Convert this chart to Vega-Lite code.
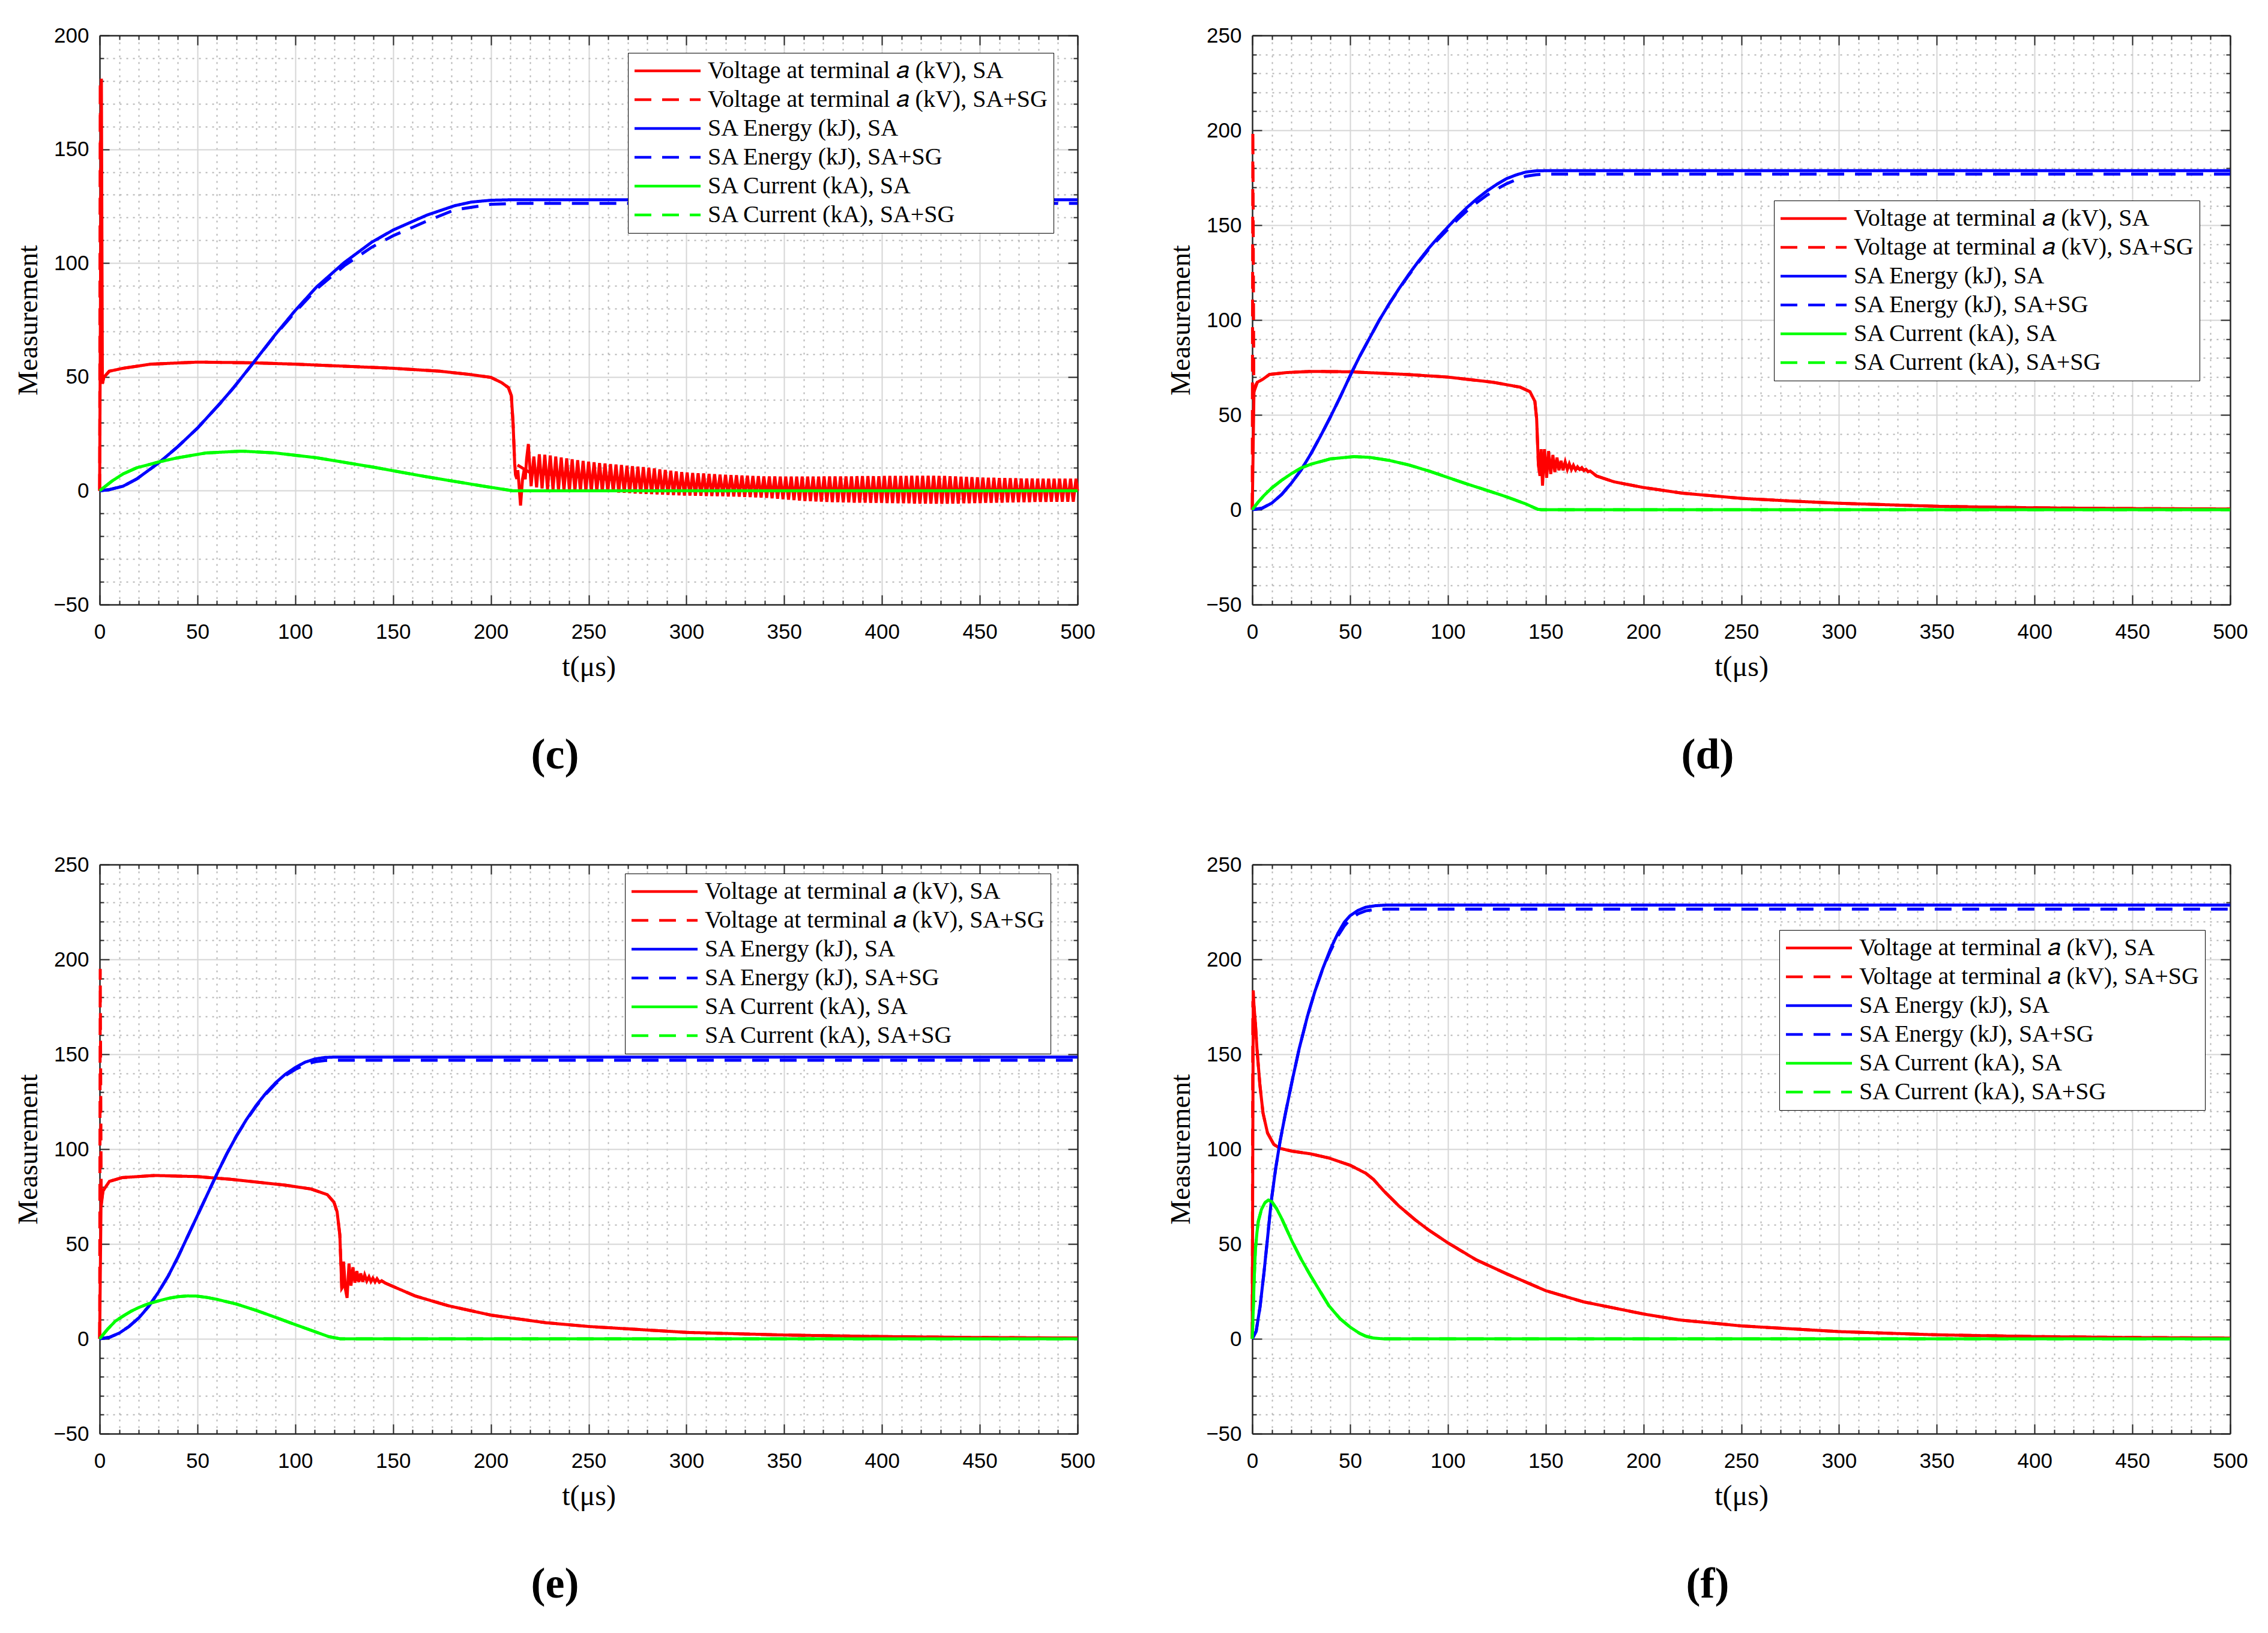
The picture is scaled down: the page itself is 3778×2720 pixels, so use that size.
{
"$schema":"https://vega.github.io/schema/vega-lite/v6.json",
"autosize":{"type":"none"},
"padding":{"left":166,"top":59,"right":3612,"bottom":2661},
"background":"#ffffff",
"datasets":{
"c":[
{"s":"VA","t":0,"v":0},{"s":"VA","t":0.9,"v":181},{"s":"VA","t":1.4,"v":47},{"s":"VA","t":2.1,"v":49.8},{"s":"VA","t":4.9,"v":52.5},{"s":"VA","t":12,"v":53.8},{"s":"VA","t":26,"v":55.6},{"s":"VA","t":50,"v":56.5},{"s":"VA","t":78,"v":56.2},{"s":"VA","t":100,"v":55.6},{"s":"VA","t":125,"v":54.7},{"s":"VA","t":150,"v":53.8},{"s":"VA","t":174,"v":52.5},{"s":"VA","t":189,"v":51.1},{"s":"VA","t":200,"v":49.8},{"s":"VA","t":205.5,"v":47.5},{"s":"VA","t":209,"v":45.3},{"s":"VA","t":210.5,"v":41.7},{"s":"VA","t":211.4,"v":29.3},{"s":"VA","t":212.2,"v":12},{"s":"VA","t":212.6,"v":7},{"s":"VA","t":213.3,"v":5.2},{"s":"VA","t":213.8,"v":9},{"s":"VA","t":214.3,"v":4},{"s":"VA","t":215.2,"v":-6.5},{"s":"VA","t":216.2,"v":5},{"s":"VA","t":217,"v":9},{"s":"VA","t":217.6,"v":5},{"s":"VA","t":218.3,"v":14},{"s":"VA","t":219.2,"v":20.5},
{"s":"VA","t":220.6,"v":2},{"s":"VA","t":222,"v":15},{"s":"VA","t":223.4,"v":1.5},{"s":"VA","t":224.8,"v":16},{"s":"VA","t":226.2,"v":1},{"s":"VA","t":227.6,"v":15.8},{"s":"VA","t":229,"v":0.6},{"s":"VA","t":230.4,"v":15.5},{"s":"VA","t":231.8,"v":0.4},{"s":"VA","t":233.2,"v":15},{"s":"VA","t":234.6,"v":0.3},{"s":"VA","t":236,"v":14.6},{"s":"VA","t":237.4,"v":0.1},{"s":"VA","t":238.8,"v":14.2},{"s":"VA","t":240.2,"v":0},{"s":"VA","t":241.6,"v":13.8},{"s":"VA","t":243,"v":0},{"s":"VA","t":244.4,"v":13.4},{"s":"VA","t":245.8,"v":0},{"s":"VA","t":247.2,"v":13.1},{"s":"VA","t":248.6,"v":0},{"s":"VA","t":250,"v":12.8},{"s":"VA","t":251.4,"v":-0.1},{"s":"VA","t":252.8,"v":12.5},{"s":"VA","t":254.2,"v":-0.2},{"s":"VA","t":255.6,"v":12.2},{"s":"VA","t":257,"v":-0.3},{"s":"VA","t":258.4,"v":12},{"s":"VA","t":259.8,"v":-0.5},{"s":"VA","t":261.2,"v":11.7},{"s":"VA","t":262.6,"v":-0.6},{"s":"VA","t":264,"v":11.5},{"s":"VA","t":265.4,"v":-0.8},{"s":"VA","t":266.8,"v":11.3},{"s":"VA","t":268.2,"v":-0.9},{"s":"VA","t":269.6,"v":11},{"s":"VA","t":271,"v":-1},{"s":"VA","t":272.4,"v":10.8},{"s":"VA","t":273.8,"v":-1.2},{"s":"VA","t":275.2,"v":10.6},{"s":"VA","t":276.6,"v":-1.3},{"s":"VA","t":278,"v":10.4},{"s":"VA","t":279.4,"v":-1.4},{"s":"VA","t":280.8,"v":10.1},{"s":"VA","t":282.2,"v":-1.5},{"s":"VA","t":283.6,"v":9.8},{"s":"VA","t":285,"v":-1.6},{"s":"VA","t":286.4,"v":9.4},{"s":"VA","t":287.8,"v":-1.7},{"s":"VA","t":289.2,"v":9.1},{"s":"VA","t":290.6,"v":-1.8},{"s":"VA","t":292,"v":8.8},{"s":"VA","t":293.4,"v":-1.9},{"s":"VA","t":294.8,"v":8.5},{"s":"VA","t":296.2,"v":-2},{"s":"VA","t":297.6,"v":8.2},{"s":"VA","t":299,"v":-2.1},{"s":"VA","t":300.4,"v":8},{"s":"VA","t":301.8,"v":-2.1},{"s":"VA","t":303.2,"v":7.8},{"s":"VA","t":304.6,"v":-2.2},{"s":"VA","t":306,"v":7.7},{"s":"VA","t":307.4,"v":-2.2},{"s":"VA","t":308.8,"v":7.6},{"s":"VA","t":310.2,"v":-2.3},{"s":"VA","t":311.6,"v":7.4},{"s":"VA","t":313,"v":-2.3},{"s":"VA","t":314.4,"v":7.3},{"s":"VA","t":315.8,"v":-2.4},{"s":"VA","t":317.2,"v":7.1},{"s":"VA","t":318.6,"v":-2.4},{"s":"VA","t":320,"v":7},{"s":"VA","t":321.4,"v":-2.5},{"s":"VA","t":322.8,"v":6.9},{"s":"VA","t":324.2,"v":-2.5},{"s":"VA","t":325.6,"v":6.8},{"s":"VA","t":327,"v":-2.6},{"s":"VA","t":328.4,"v":6.7},{"s":"VA","t":329.8,"v":-2.7},{"s":"VA","t":331.2,"v":6.6},{"s":"VA","t":332.6,"v":-2.8},{"s":"VA","t":334,"v":6.5},{"s":"VA","t":335.4,"v":-2.9},{"s":"VA","t":336.8,"v":6.4},{"s":"VA","t":338.2,"v":-3},{"s":"VA","t":339.6,"v":6.3},{"s":"VA","t":341,"v":-3.1},{"s":"VA","t":342.4,"v":6.3},{"s":"VA","t":343.8,"v":-3.3},{"s":"VA","t":345.2,"v":6.3},{"s":"VA","t":346.6,"v":-3.5},{"s":"VA","t":348,"v":6.2},{"s":"VA","t":349.4,"v":-3.7},{"s":"VA","t":350.8,"v":6.2},{"s":"VA","t":352.2,"v":-3.9},{"s":"VA","t":353.6,"v":6.2},{"s":"VA","t":355,"v":-4.1},{"s":"VA","t":356.4,"v":6.2},{"s":"VA","t":357.8,"v":-4.3},{"s":"VA","t":359.2,"v":6.2},{"s":"VA","t":360.6,"v":-4.5},{"s":"VA","t":362,"v":6.2},{"s":"VA","t":363.4,"v":-4.6},{"s":"VA","t":364.8,"v":6.2},{"s":"VA","t":366.2,"v":-4.7},{"s":"VA","t":367.6,"v":6.2},{"s":"VA","t":369,"v":-4.8},{"s":"VA","t":370.4,"v":6.3},{"s":"VA","t":371.8,"v":-4.9},{"s":"VA","t":373.2,"v":6.3},{"s":"VA","t":374.6,"v":-5},{"s":"VA","t":376,"v":6.3},{"s":"VA","t":377.4,"v":-5},{"s":"VA","t":378.8,"v":6.3},{"s":"VA","t":380.2,"v":-5.1},{"s":"VA","t":381.6,"v":6.3},{"s":"VA","t":383,"v":-5.1},{"s":"VA","t":384.4,"v":6.3},{"s":"VA","t":385.8,"v":-5.2},{"s":"VA","t":387.2,"v":6.4},{"s":"VA","t":388.6,"v":-5.2},{"s":"VA","t":390,"v":6.4},{"s":"VA","t":391.4,"v":-5.2},{"s":"VA","t":392.8,"v":6.4},{"s":"VA","t":394.2,"v":-5.3},{"s":"VA","t":395.6,"v":6.4},{"s":"VA","t":397,"v":-5.3},{"s":"VA","t":398.4,"v":6.4},{"s":"VA","t":399.8,"v":-5.3},{"s":"VA","t":401.2,"v":6.5},{"s":"VA","t":402.6,"v":-5.4},{"s":"VA","t":404,"v":6.5},{"s":"VA","t":405.4,"v":-5.4},{"s":"VA","t":406.8,"v":6.5},{"s":"VA","t":408.2,"v":-5.5},{"s":"VA","t":409.6,"v":6.5},{"s":"VA","t":411,"v":-5.5},{"s":"VA","t":412.4,"v":6.5},{"s":"VA","t":413.8,"v":-5.5},{"s":"VA","t":415.2,"v":6.6},{"s":"VA","t":416.6,"v":-5.6},{"s":"VA","t":418,"v":6.6},{"s":"VA","t":419.4,"v":-5.6},{"s":"VA","t":420.8,"v":6.6},{"s":"VA","t":422.2,"v":-5.6},{"s":"VA","t":423.6,"v":6.6},{"s":"VA","t":425,"v":-5.6},{"s":"VA","t":426.4,"v":6.6},{"s":"VA","t":427.8,"v":-5.7},{"s":"VA","t":429.2,"v":6.5},{"s":"VA","t":430.6,"v":-5.7},{"s":"VA","t":432,"v":6.5},{"s":"VA","t":433.4,"v":-5.7},{"s":"VA","t":434.8,"v":6.4},{"s":"VA","t":436.2,"v":-5.6},{"s":"VA","t":437.6,"v":6.3},{"s":"VA","t":439,"v":-5.6},{"s":"VA","t":440.4,"v":6.2},{"s":"VA","t":441.8,"v":-5.5},{"s":"VA","t":443.2,"v":6.1},{"s":"VA","t":444.6,"v":-5.5},{"s":"VA","t":446,"v":6},{"s":"VA","t":447.4,"v":-5.4},{"s":"VA","t":448.8,"v":5.9},{"s":"VA","t":450.2,"v":-5.4},{"s":"VA","t":451.6,"v":5.8},{"s":"VA","t":453,"v":-5.3},{"s":"VA","t":454.4,"v":5.7},{"s":"VA","t":455.8,"v":-5.3},{"s":"VA","t":457.2,"v":5.7},{"s":"VA","t":458.6,"v":-5.2},{"s":"VA","t":460,"v":5.6},{"s":"VA","t":461.4,"v":-5.2},{"s":"VA","t":462.8,"v":5.6},{"s":"VA","t":464.2,"v":-5.1},{"s":"VA","t":465.6,"v":5.5},{"s":"VA","t":467,"v":-5.1},{"s":"VA","t":468.4,"v":5.5},{"s":"VA","t":469.8,"v":-5},{"s":"VA","t":471.2,"v":5.4},{"s":"VA","t":472.6,"v":-5},{"s":"VA","t":474,"v":5.4},{"s":"VA","t":475.4,"v":-5},{"s":"VA","t":476.8,"v":5.4},{"s":"VA","t":478.2,"v":-4.9},{"s":"VA","t":479.6,"v":5.3},{"s":"VA","t":481,"v":-4.9},{"s":"VA","t":482.4,"v":5.3},{"s":"VA","t":483.8,"v":-4.9},{"s":"VA","t":485.2,"v":5.3},{"s":"VA","t":486.6,"v":-4.8},{"s":"VA","t":488,"v":5.3},{"s":"VA","t":489.4,"v":-4.8},{"s":"VA","t":490.8,"v":5.3},{"s":"VA","t":492.2,"v":-4.8},{"s":"VA","t":493.6,"v":5.3},{"s":"VA","t":495,"v":-4.8},{"s":"VA","t":496.4,"v":5.3},{"s":"VA","t":497.8,"v":-4.8},{"s":"VA","t":499.2,"v":5.3},{"s":"VA","t":500,"v":0},
{"s":"VG","t":0,"v":0},{"s":"VG","t":0.3,"v":180},{"s":"VG","t":0.8,"v":46},{"s":"VG","t":1.4,"v":47},{"s":"VG","t":2.1,"v":49.8},{"s":"VG","t":4.9,"v":52.5},{"s":"VG","t":12,"v":53.8},{"s":"VG","t":26,"v":55.6},{"s":"VG","t":50,"v":56.5},{"s":"VG","t":78,"v":56.2},{"s":"VG","t":100,"v":55.6},{"s":"VG","t":125,"v":54.7},{"s":"VG","t":150,"v":53.8},{"s":"VG","t":174,"v":52.5},{"s":"VG","t":189,"v":51.1},{"s":"VG","t":200,"v":49.8},{"s":"VG","t":205.5,"v":47.5},{"s":"VG","t":209,"v":45.3},{"s":"VG","t":210.5,"v":41.7},{"s":"VG","t":211.4,"v":29.3},{"s":"VG","t":212.2,"v":12},{"s":"VG","t":220,"v":8},{"s":"VG","t":240,"v":6.5},{"s":"VG","t":260,"v":5},{"s":"VG","t":300,"v":3},{"s":"VG","t":350,"v":1},{"s":"VG","t":400,"v":0.5},{"s":"VG","t":500,"v":0.5},
{"s":"EA","t":0,"v":0},{"s":"EA","t":5,"v":0.5},{"s":"EA","t":12,"v":2},{"s":"EA","t":19,"v":5.2},{"s":"EA","t":26,"v":9.6},{"s":"EA","t":31,"v":12.8},{"s":"EA","t":40,"v":19.4},{"s":"EA","t":50,"v":27.5},{"s":"EA","t":61.4,"v":38.2},{"s":"EA","t":68.5,"v":45.3},{"s":"EA","t":78.4,"v":56},{"s":"EA","t":89.7,"v":68.5},{"s":"EA","t":100,"v":79.2},{"s":"EA","t":110.9,"v":89.5},{"s":"EA","t":125,"v":100.2},{"s":"EA","t":139,"v":109.1},{"s":"EA","t":150,"v":114.5},{"s":"EA","t":167.4,"v":121.1},{"s":"EA","t":181.5,"v":125.2},{"s":"EA","t":190,"v":126.8},{"s":"EA","t":200,"v":127.6},{"s":"EA","t":210,"v":127.8},{"s":"EA","t":500,"v":127.8},
{"s":"EG","t":0,"v":0},{"s":"EG","t":5,"v":0.5},{"s":"EG","t":12,"v":2},{"s":"EG","t":19,"v":5.2},{"s":"EG","t":26,"v":9.6},{"s":"EG","t":31,"v":12.8},{"s":"EG","t":40,"v":19.4},{"s":"EG","t":50,"v":27.5},{"s":"EG","t":61.4,"v":38.2},{"s":"EG","t":68.5,"v":45.3},{"s":"EG","t":78.4,"v":56},{"s":"EG","t":89.7,"v":68.3},{"s":"EG","t":100,"v":78.5},{"s":"EG","t":110.9,"v":88.6},{"s":"EG","t":125,"v":98.8},{"s":"EG","t":139,"v":106.9},{"s":"EG","t":150,"v":112},{"s":"EG","t":167.4,"v":118.5},{"s":"EG","t":181.5,"v":123.4},{"s":"EG","t":200,"v":125.8},{"s":"EG","t":215,"v":126.2},{"s":"EG","t":500,"v":126.2},
{"s":"IA","t":0,"v":0},{"s":"IA","t":6.4,"v":4.3},{"s":"IA","t":12,"v":7.4},{"s":"IA","t":19,"v":10.1},{"s":"IA","t":31,"v":12.8},{"s":"IA","t":40,"v":14.5},{"s":"IA","t":54.4,"v":16.6},{"s":"IA","t":72.7,"v":17.4},{"s":"IA","t":89.7,"v":16.6},{"s":"IA","t":110.9,"v":14.5},{"s":"IA","t":139,"v":10.5},{"s":"IA","t":167.4,"v":6.1},{"s":"IA","t":195.6,"v":2.1},{"s":"IA","t":211.2,"v":0},{"s":"IA","t":500,"v":0},
{"s":"IG","t":0,"v":0},{"s":"IG","t":6.4,"v":4.3},{"s":"IG","t":12,"v":7.4},{"s":"IG","t":19,"v":10.1},{"s":"IG","t":31,"v":12.8},{"s":"IG","t":40,"v":14.5},{"s":"IG","t":54.4,"v":16.6},{"s":"IG","t":72.7,"v":17.4},{"s":"IG","t":89.7,"v":16.6},{"s":"IG","t":110.9,"v":14.5},{"s":"IG","t":139,"v":10.5},{"s":"IG","t":167.4,"v":6.1},{"s":"IG","t":195.6,"v":2.1},{"s":"IG","t":211.2,"v":0},{"s":"IG","t":500,"v":0}
],
"d":[
{"s":"VA","t":0,"v":0},{"s":"VA","t":0.9,"v":64.2},{"s":"VA","t":2.6,"v":67.2},{"s":"VA","t":5.3,"v":68.7},{"s":"VA","t":8.8,"v":71.3},{"s":"VA","t":17.6,"v":72.3},{"s":"VA","t":30,"v":72.9},{"s":"VA","t":50,"v":72.7},{"s":"VA","t":79,"v":71.3},{"s":"VA","t":100,"v":69.9},{"s":"VA","t":123,"v":67.2},{"s":"VA","t":137,"v":64.6},{"s":"VA","t":142,"v":62.2},{"s":"VA","t":144.5,"v":57.1},{"s":"VA","t":145.4,"v":48},{"s":"VA","t":146.3,"v":23.8},{"s":"VA","t":147.1,"v":17.8},{"s":"VA","t":147.7,"v":31.9},{"s":"VA","t":148.4,"v":12.7},{"s":"VA","t":149.4,"v":31.9},{"s":"VA","t":150.5,"v":16.8},{"s":"VA","t":151.5,"v":30.9},{"s":"VA","t":152.6,"v":18.8},{"s":"VA","t":153.7,"v":28.9},{"s":"VA","t":154.7,"v":19.8},{"s":"VA","t":155.8,"v":27.5},{"s":"VA","t":156.8,"v":20.8},{"s":"VA","t":157.9,"v":25.8},{"s":"VA","t":158.9,"v":20.8},{"s":"VA","t":160,"v":25.2},{"s":"VA","t":161.1,"v":21.2},{"s":"VA","t":162.1,"v":24.2},{"s":"VA","t":163.2,"v":21.2},{"s":"VA","t":164.2,"v":23.4},{"s":"VA","t":165.3,"v":21},{"s":"VA","t":166.3,"v":22.6},{"s":"VA","t":167.4,"v":21.2},{"s":"VA","t":168.5,"v":22.2},{"s":"VA","t":169.6,"v":20.6},{"s":"VA","t":170.6,"v":21.3},{"s":"VA","t":171.7,"v":20},{"s":"VA","t":172.8,"v":20.4},{"s":"VA","t":176,"v":17.8},{"s":"VA","t":185,"v":14.7},{"s":"VA","t":200,"v":11.7},{"s":"VA","t":220,"v":8.7},{"s":"VA","t":250,"v":6},{"s":"VA","t":275,"v":4.6},{"s":"VA","t":300,"v":3.4},{"s":"VA","t":350,"v":1.8},{"s":"VA","t":400,"v":1},{"s":"VA","t":450,"v":0.6},{"s":"VA","t":500,"v":0.4},
{"s":"VG","t":0,"v":0},{"s":"VG","t":0.3,"v":200},{"s":"VG","t":0.8,"v":62},{"s":"VG","t":2.6,"v":67.2},{"s":"VG","t":5.3,"v":68.7},{"s":"VG","t":8.8,"v":71.3},{"s":"VG","t":17.6,"v":72.3},{"s":"VG","t":30,"v":72.9},{"s":"VG","t":50,"v":72.7},{"s":"VG","t":79,"v":71.3},{"s":"VG","t":100,"v":69.9},{"s":"VG","t":123,"v":67.2},{"s":"VG","t":137,"v":64.6},{"s":"VG","t":142,"v":62.2},{"s":"VG","t":144.5,"v":57.1},{"s":"VG","t":145.4,"v":48},{"s":"VG","t":146.3,"v":23.8},{"s":"VG","t":147.1,"v":17.8},{"s":"VG","t":150,"v":23.5},{"s":"VG","t":160,"v":23},{"s":"VG","t":167.4,"v":21.5},{"s":"VG","t":172.8,"v":20.4},{"s":"VG","t":176,"v":17.8},{"s":"VG","t":185,"v":14.7},{"s":"VG","t":200,"v":11.7},{"s":"VG","t":220,"v":8.7},{"s":"VG","t":250,"v":6},{"s":"VG","t":275,"v":4.6},{"s":"VG","t":300,"v":3.4},{"s":"VG","t":350,"v":1.8},{"s":"VG","t":400,"v":1},{"s":"VG","t":450,"v":0.6},{"s":"VG","t":500,"v":0.4},
{"s":"EA","t":0,"v":0},{"s":"EA","t":5,"v":0.8},{"s":"EA","t":10,"v":3.5},{"s":"EA","t":15,"v":8},{"s":"EA","t":20,"v":14},{"s":"EA","t":25,"v":21},{"s":"EA","t":30,"v":29.5},{"s":"EA","t":35,"v":39},{"s":"EA","t":40,"v":49},{"s":"EA","t":45,"v":59.5},{"s":"EA","t":51,"v":72.7},{"s":"EA","t":55,"v":81},{"s":"EA","t":60,"v":90.5},{"s":"EA","t":65,"v":100},{"s":"EA","t":70,"v":108.5},{"s":"EA","t":75,"v":116.5},{"s":"EA","t":80,"v":124},{"s":"EA","t":85,"v":131},{"s":"EA","t":90,"v":137.5},{"s":"EA","t":95,"v":143.5},{"s":"EA","t":100,"v":149},{"s":"EA","t":105,"v":154.5},{"s":"EA","t":110,"v":159.5},{"s":"EA","t":115,"v":164},{"s":"EA","t":120,"v":168},{"s":"EA","t":125,"v":171.5},{"s":"EA","t":130,"v":174.5},{"s":"EA","t":135,"v":176.5},{"s":"EA","t":140,"v":178},{"s":"EA","t":145,"v":178.6},{"s":"EA","t":150,"v":178.7},{"s":"EA","t":500,"v":178.7},
{"s":"EG","t":0,"v":0},{"s":"EG","t":5,"v":0.8},{"s":"EG","t":10,"v":3.5},{"s":"EG","t":15,"v":8},{"s":"EG","t":20,"v":14},{"s":"EG","t":25,"v":21},{"s":"EG","t":30,"v":29.5},{"s":"EG","t":35,"v":39},{"s":"EG","t":40,"v":49},{"s":"EG","t":45,"v":59.5},{"s":"EG","t":51,"v":72.7},{"s":"EG","t":55,"v":81},{"s":"EG","t":60,"v":90.5},{"s":"EG","t":65,"v":100},{"s":"EG","t":70,"v":108.5},{"s":"EG","t":75,"v":116.3},{"s":"EG","t":80,"v":123.6},{"s":"EG","t":85,"v":130.5},{"s":"EG","t":90,"v":137},{"s":"EG","t":95,"v":142.5},{"s":"EG","t":100,"v":147.8},{"s":"EG","t":105,"v":153},{"s":"EG","t":110,"v":157.8},{"s":"EG","t":115,"v":162},{"s":"EG","t":120,"v":165.8},{"s":"EG","t":125,"v":169},{"s":"EG","t":130,"v":171.8},{"s":"EG","t":135,"v":174},{"s":"EG","t":140,"v":175.8},{"s":"EG","t":145,"v":176.6},{"s":"EG","t":150,"v":176.9},{"s":"EG","t":500,"v":176.9},
{"s":"IA","t":0,"v":0},{"s":"IA","t":3,"v":4},{"s":"IA","t":6,"v":7.5},{"s":"IA","t":10,"v":11.5},{"s":"IA","t":15,"v":15.5},{"s":"IA","t":20,"v":19},{"s":"IA","t":25,"v":22},{"s":"IA","t":30,"v":24},{"s":"IA","t":40,"v":26.8},{"s":"IA","t":52,"v":28},{"s":"IA","t":60,"v":27.6},{"s":"IA","t":70,"v":26},{"s":"IA","t":80,"v":23.6},{"s":"IA","t":90,"v":20.5},{"s":"IA","t":100,"v":17},{"s":"IA","t":110,"v":13.5},{"s":"IA","t":120,"v":10.2},{"s":"IA","t":130,"v":6.8},{"s":"IA","t":140,"v":3},{"s":"IA","t":146,"v":0.2},{"s":"IA","t":148,"v":0},{"s":"IA","t":500,"v":0},
{"s":"IG","t":0,"v":0},{"s":"IG","t":3,"v":4},{"s":"IG","t":6,"v":7.5},{"s":"IG","t":10,"v":11.5},{"s":"IG","t":15,"v":15.5},{"s":"IG","t":20,"v":19},{"s":"IG","t":25,"v":22},{"s":"IG","t":30,"v":24},{"s":"IG","t":40,"v":26.8},{"s":"IG","t":52,"v":28},{"s":"IG","t":60,"v":27.6},{"s":"IG","t":70,"v":26},{"s":"IG","t":80,"v":23.6},{"s":"IG","t":90,"v":20.5},{"s":"IG","t":100,"v":17},{"s":"IG","t":110,"v":13.5},{"s":"IG","t":120,"v":10.2},{"s":"IG","t":130,"v":6.8},{"s":"IG","t":140,"v":3},{"s":"IG","t":146,"v":0.2},{"s":"IG","t":148,"v":0},{"s":"IG","t":500,"v":0}
],
"e":[
{"s":"VA","t":0,"v":0},{"s":"VA","t":0.7,"v":71},{"s":"VA","t":1.7,"v":78},{"s":"VA","t":5,"v":83},{"s":"VA","t":11.6,"v":85},{"s":"VA","t":28.3,"v":86.1},{"s":"VA","t":50,"v":85.5},{"s":"VA","t":66.9,"v":84.1},{"s":"VA","t":94.8,"v":81},{"s":"VA","t":108,"v":79},{"s":"VA","t":116.4,"v":76},{"s":"VA","t":119.8,"v":72},{"s":"VA","t":121.4,"v":67},{"s":"VA","t":122.8,"v":54.8},{"s":"VA","t":123.8,"v":26.6},{"s":"VA","t":124.7,"v":40.7},{"s":"VA","t":125.7,"v":26},{"s":"VA","t":126.5,"v":21.6},{"s":"VA","t":127.5,"v":39.7},{"s":"VA","t":128.5,"v":28},{"s":"VA","t":129.5,"v":37.7},{"s":"VA","t":130.5,"v":29.6},{"s":"VA","t":131.5,"v":35.7},{"s":"VA","t":132.5,"v":30},{"s":"VA","t":133.5,"v":34.5},{"s":"VA","t":134.5,"v":30},{"s":"VA","t":135.5,"v":33.7},{"s":"VA","t":136.6,"v":30.5},{"s":"VA","t":137.7,"v":32.7},{"s":"VA","t":138.7,"v":30.2},{"s":"VA","t":139.7,"v":32},{"s":"VA","t":140.8,"v":30},{"s":"VA","t":141.8,"v":31.7},{"s":"VA","t":143,"v":29.8},{"s":"VA","t":144.2,"v":30.6},{"s":"VA","t":146,"v":29.4},{"s":"VA","t":150,"v":27.6},{"s":"VA","t":161.3,"v":22.6},{"s":"VA","t":178,"v":17.5},{"s":"VA","t":200,"v":12.5},{"s":"VA","t":228,"v":8.5},{"s":"VA","t":250,"v":6.5},{"s":"VA","t":300,"v":3.4},{"s":"VA","t":350,"v":2},{"s":"VA","t":400,"v":1.2},{"s":"VA","t":450,"v":0.7},{"s":"VA","t":500,"v":0.4},
{"s":"VG","t":0,"v":0},{"s":"VG","t":0.3,"v":195},{"s":"VG","t":0.8,"v":70},{"s":"VG","t":1.7,"v":78},{"s":"VG","t":5,"v":83},{"s":"VG","t":11.6,"v":85},{"s":"VG","t":28.3,"v":86.1},{"s":"VG","t":50,"v":85.5},{"s":"VG","t":66.9,"v":84.1},{"s":"VG","t":94.8,"v":81},{"s":"VG","t":108,"v":79},{"s":"VG","t":116.4,"v":76},{"s":"VG","t":119.8,"v":72},{"s":"VG","t":121.4,"v":67},{"s":"VG","t":122.8,"v":54.8},{"s":"VG","t":123.8,"v":26.6},{"s":"VG","t":126,"v":30},{"s":"VG","t":135,"v":32},{"s":"VG","t":144.2,"v":30.6},{"s":"VG","t":146,"v":29.4},{"s":"VG","t":150,"v":27.6},{"s":"VG","t":161.3,"v":22.6},{"s":"VG","t":178,"v":17.5},{"s":"VG","t":200,"v":12.5},{"s":"VG","t":228,"v":8.5},{"s":"VG","t":250,"v":6.5},{"s":"VG","t":300,"v":3.4},{"s":"VG","t":350,"v":2},{"s":"VG","t":400,"v":1.2},{"s":"VG","t":450,"v":0.7},{"s":"VG","t":500,"v":0.4},
{"s":"EA","t":0,"v":0},{"s":"EA","t":5,"v":0.8},{"s":"EA","t":10,"v":3},{"s":"EA","t":15,"v":6.5},{"s":"EA","t":20,"v":11},{"s":"EA","t":25,"v":17},{"s":"EA","t":30,"v":24.5},{"s":"EA","t":35,"v":33},{"s":"EA","t":40,"v":43},{"s":"EA","t":45,"v":54},{"s":"EA","t":50,"v":65},{"s":"EA","t":55,"v":76},{"s":"EA","t":60,"v":87},{"s":"EA","t":65,"v":97.5},{"s":"EA","t":70,"v":107},{"s":"EA","t":75,"v":115.5},{"s":"EA","t":80,"v":123},{"s":"EA","t":85,"v":129.5},{"s":"EA","t":90,"v":135},{"s":"EA","t":95,"v":139.5},{"s":"EA","t":100,"v":143},{"s":"EA","t":105,"v":145.8},{"s":"EA","t":110,"v":147.5},{"s":"EA","t":115,"v":148.3},{"s":"EA","t":120,"v":148.5},{"s":"EA","t":500,"v":148.5},
{"s":"EG","t":0,"v":0},{"s":"EG","t":5,"v":0.8},{"s":"EG","t":10,"v":3},{"s":"EG","t":15,"v":6.5},{"s":"EG","t":20,"v":11},{"s":"EG","t":25,"v":17},{"s":"EG","t":30,"v":24.5},{"s":"EG","t":35,"v":33},{"s":"EG","t":40,"v":43},{"s":"EG","t":45,"v":54},{"s":"EG","t":50,"v":65},{"s":"EG","t":55,"v":76},{"s":"EG","t":60,"v":87},{"s":"EG","t":65,"v":97.5},{"s":"EG","t":70,"v":107},{"s":"EG","t":75,"v":115.3},{"s":"EG","t":80,"v":122.6},{"s":"EG","t":85,"v":129},{"s":"EG","t":90,"v":134.5},{"s":"EG","t":95,"v":138.8},{"s":"EG","t":100,"v":142},{"s":"EG","t":105,"v":144.5},{"s":"EG","t":110,"v":146},{"s":"EG","t":115,"v":146.7},{"s":"EG","t":120,"v":146.8},{"s":"EG","t":500,"v":146.8},
{"s":"IA","t":0,"v":0},{"s":"IA","t":4,"v":5},{"s":"IA","t":8,"v":9.3},{"s":"IA","t":12,"v":12},{"s":"IA","t":16,"v":14.5},{"s":"IA","t":20,"v":16.5},{"s":"IA","t":25,"v":18.5},{"s":"IA","t":30,"v":20},{"s":"IA","t":35,"v":21.3},{"s":"IA","t":40,"v":22.2},{"s":"IA","t":45,"v":22.6},{"s":"IA","t":50,"v":22.5},{"s":"IA","t":55,"v":21.8},{"s":"IA","t":60,"v":20.8},{"s":"IA","t":70,"v":18.3},{"s":"IA","t":80,"v":15},{"s":"IA","t":90,"v":11.3},{"s":"IA","t":100,"v":7.5},{"s":"IA","t":110,"v":3.8},{"s":"IA","t":117,"v":1.2},{"s":"IA","t":123,"v":0},{"s":"IA","t":500,"v":0},
{"s":"IG","t":0,"v":0},{"s":"IG","t":4,"v":5},{"s":"IG","t":8,"v":9.3},{"s":"IG","t":12,"v":12},{"s":"IG","t":16,"v":14.5},{"s":"IG","t":20,"v":16.5},{"s":"IG","t":25,"v":18.5},{"s":"IG","t":30,"v":20},{"s":"IG","t":35,"v":21.3},{"s":"IG","t":40,"v":22.2},{"s":"IG","t":45,"v":22.6},{"s":"IG","t":50,"v":22.5},{"s":"IG","t":55,"v":21.8},{"s":"IG","t":60,"v":20.8},{"s":"IG","t":70,"v":18.3},{"s":"IG","t":80,"v":15},{"s":"IG","t":90,"v":11.3},{"s":"IG","t":100,"v":7.5},{"s":"IG","t":110,"v":3.8},{"s":"IG","t":117,"v":1.2},{"s":"IG","t":123,"v":0},{"s":"IG","t":500,"v":0}
],
"f":[
{"s":"VA","t":0,"v":0},{"s":"VA","t":0.5,"v":183.7},{"s":"VA","t":0.9,"v":175.2},{"s":"VA","t":1.5,"v":168},{"s":"VA","t":2.4,"v":153},{"s":"VA","t":3.9,"v":133.9},{"s":"VA","t":5.5,"v":119},{"s":"VA","t":7.8,"v":108.5},{"s":"VA","t":11,"v":102.5},{"s":"VA","t":14.1,"v":100.4},{"s":"VA","t":20.4,"v":98.9},{"s":"VA","t":29.8,"v":97.5},{"s":"VA","t":39.2,"v":95.3},{"s":"VA","t":50,"v":91.5},{"s":"VA","t":58,"v":87.3},{"s":"VA","t":62,"v":84},{"s":"VA","t":67.4,"v":77.8},{"s":"VA","t":75,"v":70},{"s":"VA","t":83.1,"v":62.9},{"s":"VA","t":90,"v":57.5},{"s":"VA","t":100,"v":50.6},{"s":"VA","t":114.4,"v":41.7},{"s":"VA","t":130,"v":34.3},{"s":"VA","t":150,"v":25.4},{"s":"VA","t":169.3,"v":19.5},{"s":"VA","t":200,"v":13.1},{"s":"VA","t":218,"v":10},{"s":"VA","t":250,"v":6.8},{"s":"VA","t":300,"v":3.8},{"s":"VA","t":350,"v":2.1},{"s":"VA","t":400,"v":1.2},{"s":"VA","t":450,"v":0.7},{"s":"VA","t":500,"v":0.4},
{"s":"VG","t":0,"v":0},{"s":"VG","t":0.3,"v":178},{"s":"VG","t":0.9,"v":175.2},{"s":"VG","t":1.5,"v":168},{"s":"VG","t":2.4,"v":153},{"s":"VG","t":3.9,"v":133.9},{"s":"VG","t":5.5,"v":119},{"s":"VG","t":7.8,"v":108.5},{"s":"VG","t":11,"v":102.5},{"s":"VG","t":14.1,"v":100.4},{"s":"VG","t":20.4,"v":98.9},{"s":"VG","t":29.8,"v":97.5},{"s":"VG","t":39.2,"v":95.3},{"s":"VG","t":50,"v":91.5},{"s":"VG","t":58,"v":87.3},{"s":"VG","t":62,"v":84},{"s":"VG","t":67.4,"v":77.8},{"s":"VG","t":75,"v":70},{"s":"VG","t":83.1,"v":62.9},{"s":"VG","t":90,"v":57.5},{"s":"VG","t":100,"v":50.6},{"s":"VG","t":114.4,"v":41.7},{"s":"VG","t":130,"v":34.3},{"s":"VG","t":150,"v":25.4},{"s":"VG","t":169.3,"v":19.5},{"s":"VG","t":200,"v":13.1},{"s":"VG","t":218,"v":10},{"s":"VG","t":250,"v":6.8},{"s":"VG","t":300,"v":3.8},{"s":"VG","t":350,"v":2.1},{"s":"VG","t":400,"v":1.2},{"s":"VG","t":450,"v":0.7},{"s":"VG","t":500,"v":0.4},
{"s":"EA","t":0,"v":0},{"s":"EA","t":2,"v":4},{"s":"EA","t":4,"v":17},{"s":"EA","t":6,"v":35},{"s":"EA","t":8,"v":55},{"s":"EA","t":9.7,"v":72.5},{"s":"EA","t":12,"v":90},{"s":"EA","t":14.2,"v":104},{"s":"EA","t":17,"v":119},{"s":"EA","t":20.4,"v":136},{"s":"EA","t":24,"v":153},{"s":"EA","t":28.2,"v":170},{"s":"EA","t":32,"v":183},{"s":"EA","t":36,"v":195},{"s":"EA","t":40,"v":205.5},{"s":"EA","t":43.9,"v":214},{"s":"EA","t":47,"v":219.5},{"s":"EA","t":50,"v":223},{"s":"EA","t":54,"v":225.8},{"s":"EA","t":58,"v":227.5},{"s":"EA","t":63,"v":228.3},{"s":"EA","t":68,"v":228.6},{"s":"EA","t":500,"v":228.6},
{"s":"EG","t":0,"v":0},{"s":"EG","t":2,"v":4},{"s":"EG","t":4,"v":17},{"s":"EG","t":6,"v":35},{"s":"EG","t":8,"v":55},{"s":"EG","t":9.7,"v":72.5},{"s":"EG","t":12,"v":90},{"s":"EG","t":14.2,"v":104},{"s":"EG","t":17,"v":119},{"s":"EG","t":20.4,"v":136},{"s":"EG","t":24,"v":153},{"s":"EG","t":28.2,"v":170},{"s":"EG","t":32,"v":183},{"s":"EG","t":36,"v":195},{"s":"EG","t":40,"v":204.5},{"s":"EG","t":43.9,"v":212.5},{"s":"EG","t":47,"v":217.5},{"s":"EG","t":50,"v":221},{"s":"EG","t":54,"v":224},{"s":"EG","t":58,"v":225.6},{"s":"EG","t":63,"v":226.3},{"s":"EG","t":68,"v":226.5},{"s":"EG","t":500,"v":226.5},
{"s":"IA","t":0,"v":0},{"s":"IA","t":0.5,"v":15},{"s":"IA","t":1,"v":32},{"s":"IA","t":1.6,"v":47},{"s":"IA","t":2.4,"v":56},{"s":"IA","t":3.1,"v":62},{"s":"IA","t":4.7,"v":68.2},{"s":"IA","t":6.5,"v":71.8},{"s":"IA","t":8.2,"v":73.1},{"s":"IA","t":10,"v":72.3},{"s":"IA","t":12.5,"v":68.5},{"s":"IA","t":15,"v":63.5},{"s":"IA","t":20.4,"v":51.3},{"s":"IA","t":25,"v":42},{"s":"IA","t":29.8,"v":33.3},{"s":"IA","t":35,"v":24.5},{"s":"IA","t":39.2,"v":17.4},{"s":"IA","t":45,"v":10.5},{"s":"IA","t":50,"v":6.2},{"s":"IA","t":55,"v":2.8},{"s":"IA","t":58,"v":1.4},{"s":"IA","t":62,"v":0.4},{"s":"IA","t":67,"v":0},{"s":"IA","t":500,"v":0},
{"s":"IG","t":0,"v":0},{"s":"IG","t":0.5,"v":15},{"s":"IG","t":1,"v":32},{"s":"IG","t":1.6,"v":47},{"s":"IG","t":2.4,"v":56},{"s":"IG","t":3.1,"v":62},{"s":"IG","t":4.7,"v":68.2},{"s":"IG","t":6.5,"v":71.8},{"s":"IG","t":8.2,"v":73.1},{"s":"IG","t":10,"v":72.3},{"s":"IG","t":12.5,"v":68.5},{"s":"IG","t":15,"v":63.5},{"s":"IG","t":20.4,"v":51.3},{"s":"IG","t":25,"v":42},{"s":"IG","t":29.8,"v":33.3},{"s":"IG","t":35,"v":24.5},{"s":"IG","t":39.2,"v":17.4},{"s":"IG","t":45,"v":10.5},{"s":"IG","t":50,"v":6.2},{"s":"IG","t":55,"v":2.8},{"s":"IG","t":58,"v":1.4},{"s":"IG","t":62,"v":0.4},{"s":"IG","t":67,"v":0},{"s":"IG","t":500,"v":0}
]
},
"columns":2,
"spacing":{"row":433,"column":291},
"bounds":"flush",
"resolve":{"scale":{"color":"independent","strokeDash":"independent"}},
"concat":[
{"width":1629,"height":948,"data":{"name":"c"},
"title":{"text":"(c)","orient":"bottom","anchor":"middle","frame":"bounds","font":"Liberation Serif","fontSize":72,"fontWeight":"bold","color":"#000","offset":88,"baseline":"top"},
"layer":[
{"transform":[{"filter":{"field":"s","oneOf":["VG","EG","IG"]}}],"mark":{"type":"line","strokeWidth":5},
"encoding":{
"x":{"field":"t","type":"quantitative","scale":{"domain":[0,500],"nice":false,"zero":false},"axis":{"orient":"top","title":null,"labels":false,"grid":false,"values":[0,10,20,30,40,50,60,70,80,90,100,110,120,130,140,150,160,170,180,190,200,210,220,230,240,250,260,270,280,290,300,310,320,330,340,350,360,370,380,390,400,410,420,430,440,450,460,470,480,490,500],"tickSize":{"condition":{"test":"datum.value % 50 === 0","value":-16},"value":-7}}},
"y":{"field":"v","type":"quantitative","scale":{"domain":[-50,200],"nice":false,"zero":false},"axis":{"orient":"right","title":null,"labels":false,"grid":false,"values":[-50,-40,-30,-20,-10,0,10,20,30,40,50,60,70,80,90,100,110,120,130,140,150,160,170,180,190,200],"tickSize":{"condition":{"test":"datum.value % 50 === 0","value":-16},"value":-7}}},
"color":{"field":"s","type":"nominal","scale":{"domain":["VA","VG","EA","EG","IA","IG"],"range":["#ff0000","#ff0000","#0000ff","#0000ff","#00ff00","#00ff00"]},"legend":{"title":null,"legendX":880,"legendY":29,"labelExpr":"{'VA':'Voltage at terminal 𝑎 (kV), SA','VG':'Voltage at terminal 𝑎 (kV), SA+SG','EA':'SA Energy (kJ), SA','EG':'SA Energy (kJ), SA+SG','IA':'SA Current (kA), SA','IG':'SA Current (kA), SA+SG'}[datum.value]"}},
"strokeDash":{"field":"s","type":"nominal","scale":{"domain":["VA","VG","EA","EG","IA","IG"],"range":[[1,0],[28,18],[1,0],[28,18],[1,0],[28,18]]},"legend":{"title":null,"legendX":880,"legendY":29,"labelExpr":"{'VA':'Voltage at terminal 𝑎 (kV), SA','VG':'Voltage at terminal 𝑎 (kV), SA+SG','EA':'SA Energy (kJ), SA','EG':'SA Energy (kJ), SA+SG','IA':'SA Current (kA), SA','IG':'SA Current (kA), SA+SG'}[datum.value]"}}
}},
{"transform":[{"filter":{"field":"s","oneOf":["VA","EA","IA"]}}],"mark":{"type":"line","strokeWidth":5},
"encoding":{
"x":{"field":"t","type":"quantitative","scale":{"domain":[0,500],"nice":false,"zero":false},"axis":{"orient":"bottom","title":"t(μs)","titleFontSize":48,"titlePadding":8,"labelPadding":44,"labelExpr":"datum.value % 50 === 0 ? datum.label : ''","grid":true,"gridDash":{"condition":{"test":"datum.value % 50 === 0","value":[]},"value":[3,8]},"gridColor":{"condition":{"test":"datum.value % 50 === 0","value":"#d6d6d6"},"value":"#b4b4b4"},"gridOpacity":{"condition":{"test":"datum.value <= 0 || datum.value >= 500","value":0},"value":1},"values":[0,10,20,30,40,50,60,70,80,90,100,110,120,130,140,150,160,170,180,190,200,210,220,230,240,250,260,270,280,290,300,310,320,330,340,350,360,370,380,390,400,410,420,430,440,450,460,470,480,490,500],"tickSize":{"condition":{"test":"datum.value % 50 === 0","value":-16},"value":-7}}},
"y":{"field":"v","type":"quantitative","scale":{"domain":[-50,200],"nice":false,"zero":false},"axis":{"orient":"left","title":"Measurement","titlePadding":17,"labelPadding":34,"labelExpr":"datum.value % 50 === 0 ? datum.label : ''","grid":true,"gridDash":{"condition":{"test":"datum.value % 50 === 0","value":[]},"value":[3,8]},"gridColor":{"condition":{"test":"datum.value % 50 === 0","value":"#d6d6d6"},"value":"#b4b4b4"},"gridOpacity":{"condition":{"test":"datum.value <= -50 || datum.value >= 200","value":0},"value":1},"values":[-50,-40,-30,-20,-10,0,10,20,30,40,50,60,70,80,90,100,110,120,130,140,150,160,170,180,190,200],"tickSize":{"condition":{"test":"datum.value % 50 === 0","value":-16},"value":-7}}},
"color":{"field":"s","type":"nominal","scale":{"domain":["VA","VG","EA","EG","IA","IG"],"range":["#ff0000","#ff0000","#0000ff","#0000ff","#00ff00","#00ff00"]},"legend":{"title":null,"legendX":880,"legendY":29,"labelExpr":"{'VA':'Voltage at terminal 𝑎 (kV), SA','VG':'Voltage at terminal 𝑎 (kV), SA+SG','EA':'SA Energy (kJ), SA','EG':'SA Energy (kJ), SA+SG','IA':'SA Current (kA), SA','IG':'SA Current (kA), SA+SG'}[datum.value]"}},
"strokeDash":{"field":"s","type":"nominal","scale":{"domain":["VA","VG","EA","EG","IA","IG"],"range":[[1,0],[28,18],[1,0],[28,18],[1,0],[28,18]]},"legend":{"title":null,"legendX":880,"legendY":29,"labelExpr":"{'VA':'Voltage at terminal 𝑎 (kV), SA','VG':'Voltage at terminal 𝑎 (kV), SA+SG','EA':'SA Energy (kJ), SA','EG':'SA Energy (kJ), SA+SG','IA':'SA Current (kA), SA','IG':'SA Current (kA), SA+SG'}[datum.value]"}}
}}
]},
{"width":1629,"height":948,"data":{"name":"d"},
"title":{"text":"(d)","orient":"bottom","anchor":"middle","frame":"bounds","font":"Liberation Serif","fontSize":72,"fontWeight":"bold","color":"#000","offset":88,"baseline":"top"},
"layer":[
{"transform":[{"filter":{"field":"s","oneOf":["VG","EG","IG"]}}],"mark":{"type":"line","strokeWidth":5},
"encoding":{
"x":{"field":"t","type":"quantitative","scale":{"domain":[0,500],"nice":false,"zero":false},"axis":{"orient":"top","title":null,"labels":false,"grid":false,"values":[0,10,20,30,40,50,60,70,80,90,100,110,120,130,140,150,160,170,180,190,200,210,220,230,240,250,260,270,280,290,300,310,320,330,340,350,360,370,380,390,400,410,420,430,440,450,460,470,480,490,500],"tickSize":{"condition":{"test":"datum.value % 50 === 0","value":-16},"value":-7}}},
"y":{"field":"v","type":"quantitative","scale":{"domain":[-50,250],"nice":false,"zero":false},"axis":{"orient":"right","title":null,"labels":false,"grid":false,"values":[-50,-40,-30,-20,-10,0,10,20,30,40,50,60,70,80,90,100,110,120,130,140,150,160,170,180,190,200,210,220,230,240,250],"tickSize":{"condition":{"test":"datum.value % 50 === 0","value":-16},"value":-7}}},
"color":{"field":"s","type":"nominal","scale":{"domain":["VA","VG","EA","EG","IA","IG"],"range":["#ff0000","#ff0000","#0000ff","#0000ff","#00ff00","#00ff00"]},"legend":{"title":null,"legendX":869,"legendY":275,"labelExpr":"{'VA':'Voltage at terminal 𝑎 (kV), SA','VG':'Voltage at terminal 𝑎 (kV), SA+SG','EA':'SA Energy (kJ), SA','EG':'SA Energy (kJ), SA+SG','IA':'SA Current (kA), SA','IG':'SA Current (kA), SA+SG'}[datum.value]"}},
"strokeDash":{"field":"s","type":"nominal","scale":{"domain":["VA","VG","EA","EG","IA","IG"],"range":[[1,0],[28,18],[1,0],[28,18],[1,0],[28,18]]},"legend":{"title":null,"legendX":869,"legendY":275,"labelExpr":"{'VA':'Voltage at terminal 𝑎 (kV), SA','VG':'Voltage at terminal 𝑎 (kV), SA+SG','EA':'SA Energy (kJ), SA','EG':'SA Energy (kJ), SA+SG','IA':'SA Current (kA), SA','IG':'SA Current (kA), SA+SG'}[datum.value]"}}
}},
{"transform":[{"filter":{"field":"s","oneOf":["VA","EA","IA"]}}],"mark":{"type":"line","strokeWidth":5},
"encoding":{
"x":{"field":"t","type":"quantitative","scale":{"domain":[0,500],"nice":false,"zero":false},"axis":{"orient":"bottom","title":"t(μs)","titleFontSize":48,"titlePadding":8,"labelPadding":44,"labelExpr":"datum.value % 50 === 0 ? datum.label : ''","grid":true,"gridDash":{"condition":{"test":"datum.value % 50 === 0","value":[]},"value":[3,8]},"gridColor":{"condition":{"test":"datum.value % 50 === 0","value":"#d6d6d6"},"value":"#b4b4b4"},"gridOpacity":{"condition":{"test":"datum.value <= 0 || datum.value >= 500","value":0},"value":1},"values":[0,10,20,30,40,50,60,70,80,90,100,110,120,130,140,150,160,170,180,190,200,210,220,230,240,250,260,270,280,290,300,310,320,330,340,350,360,370,380,390,400,410,420,430,440,450,460,470,480,490,500],"tickSize":{"condition":{"test":"datum.value % 50 === 0","value":-16},"value":-7}}},
"y":{"field":"v","type":"quantitative","scale":{"domain":[-50,250],"nice":false,"zero":false},"axis":{"orient":"left","title":"Measurement","titlePadding":17,"labelPadding":34,"labelExpr":"datum.value % 50 === 0 ? datum.label : ''","grid":true,"gridDash":{"condition":{"test":"datum.value % 50 === 0","value":[]},"value":[3,8]},"gridColor":{"condition":{"test":"datum.value % 50 === 0","value":"#d6d6d6"},"value":"#b4b4b4"},"gridOpacity":{"condition":{"test":"datum.value <= -50 || datum.value >= 250","value":0},"value":1},"values":[-50,-40,-30,-20,-10,0,10,20,30,40,50,60,70,80,90,100,110,120,130,140,150,160,170,180,190,200,210,220,230,240,250],"tickSize":{"condition":{"test":"datum.value % 50 === 0","value":-16},"value":-7}}},
"color":{"field":"s","type":"nominal","scale":{"domain":["VA","VG","EA","EG","IA","IG"],"range":["#ff0000","#ff0000","#0000ff","#0000ff","#00ff00","#00ff00"]},"legend":{"title":null,"legendX":869,"legendY":275,"labelExpr":"{'VA':'Voltage at terminal 𝑎 (kV), SA','VG':'Voltage at terminal 𝑎 (kV), SA+SG','EA':'SA Energy (kJ), SA','EG':'SA Energy (kJ), SA+SG','IA':'SA Current (kA), SA','IG':'SA Current (kA), SA+SG'}[datum.value]"}},
"strokeDash":{"field":"s","type":"nominal","scale":{"domain":["VA","VG","EA","EG","IA","IG"],"range":[[1,0],[28,18],[1,0],[28,18],[1,0],[28,18]]},"legend":{"title":null,"legendX":869,"legendY":275,"labelExpr":"{'VA':'Voltage at terminal 𝑎 (kV), SA','VG':'Voltage at terminal 𝑎 (kV), SA+SG','EA':'SA Energy (kJ), SA','EG':'SA Energy (kJ), SA+SG','IA':'SA Current (kA), SA','IG':'SA Current (kA), SA+SG'}[datum.value]"}}
}}
]},
{"width":1629,"height":948,"data":{"name":"e"},
"title":{"text":"(e)","orient":"bottom","anchor":"middle","frame":"bounds","font":"Liberation Serif","fontSize":72,"fontWeight":"bold","color":"#000","offset":88,"baseline":"top"},
"layer":[
{"transform":[{"filter":{"field":"s","oneOf":["VG","EG","IG"]}}],"mark":{"type":"line","strokeWidth":5},
"encoding":{
"x":{"field":"t","type":"quantitative","scale":{"domain":[0,500],"nice":false,"zero":false},"axis":{"orient":"top","title":null,"labels":false,"grid":false,"values":[0,10,20,30,40,50,60,70,80,90,100,110,120,130,140,150,160,170,180,190,200,210,220,230,240,250,260,270,280,290,300,310,320,330,340,350,360,370,380,390,400,410,420,430,440,450,460,470,480,490,500],"tickSize":{"condition":{"test":"datum.value % 50 === 0","value":-16},"value":-7}}},
"y":{"field":"v","type":"quantitative","scale":{"domain":[-50,250],"nice":false,"zero":false},"axis":{"orient":"right","title":null,"labels":false,"grid":false,"values":[-50,-40,-30,-20,-10,0,10,20,30,40,50,60,70,80,90,100,110,120,130,140,150,160,170,180,190,200,210,220,230,240,250],"tickSize":{"condition":{"test":"datum.value % 50 === 0","value":-16},"value":-7}}},
"color":{"field":"s","type":"nominal","scale":{"domain":["VA","VG","EA","EG","IA","IG"],"range":["#ff0000","#ff0000","#0000ff","#0000ff","#00ff00","#00ff00"]},"legend":{"title":null,"legendX":875,"legendY":15,"labelExpr":"{'VA':'Voltage at terminal 𝑎 (kV), SA','VG':'Voltage at terminal 𝑎 (kV), SA+SG','EA':'SA Energy (kJ), SA','EG':'SA Energy (kJ), SA+SG','IA':'SA Current (kA), SA','IG':'SA Current (kA), SA+SG'}[datum.value]"}},
"strokeDash":{"field":"s","type":"nominal","scale":{"domain":["VA","VG","EA","EG","IA","IG"],"range":[[1,0],[28,18],[1,0],[28,18],[1,0],[28,18]]},"legend":{"title":null,"legendX":875,"legendY":15,"labelExpr":"{'VA':'Voltage at terminal 𝑎 (kV), SA','VG':'Voltage at terminal 𝑎 (kV), SA+SG','EA':'SA Energy (kJ), SA','EG':'SA Energy (kJ), SA+SG','IA':'SA Current (kA), SA','IG':'SA Current (kA), SA+SG'}[datum.value]"}}
}},
{"transform":[{"filter":{"field":"s","oneOf":["VA","EA","IA"]}}],"mark":{"type":"line","strokeWidth":5},
"encoding":{
"x":{"field":"t","type":"quantitative","scale":{"domain":[0,500],"nice":false,"zero":false},"axis":{"orient":"bottom","title":"t(μs)","titleFontSize":48,"titlePadding":8,"labelPadding":44,"labelExpr":"datum.value % 50 === 0 ? datum.label : ''","grid":true,"gridDash":{"condition":{"test":"datum.value % 50 === 0","value":[]},"value":[3,8]},"gridColor":{"condition":{"test":"datum.value % 50 === 0","value":"#d6d6d6"},"value":"#b4b4b4"},"gridOpacity":{"condition":{"test":"datum.value <= 0 || datum.value >= 500","value":0},"value":1},"values":[0,10,20,30,40,50,60,70,80,90,100,110,120,130,140,150,160,170,180,190,200,210,220,230,240,250,260,270,280,290,300,310,320,330,340,350,360,370,380,390,400,410,420,430,440,450,460,470,480,490,500],"tickSize":{"condition":{"test":"datum.value % 50 === 0","value":-16},"value":-7}}},
"y":{"field":"v","type":"quantitative","scale":{"domain":[-50,250],"nice":false,"zero":false},"axis":{"orient":"left","title":"Measurement","titlePadding":17,"labelPadding":34,"labelExpr":"datum.value % 50 === 0 ? datum.label : ''","grid":true,"gridDash":{"condition":{"test":"datum.value % 50 === 0","value":[]},"value":[3,8]},"gridColor":{"condition":{"test":"datum.value % 50 === 0","value":"#d6d6d6"},"value":"#b4b4b4"},"gridOpacity":{"condition":{"test":"datum.value <= -50 || datum.value >= 250","value":0},"value":1},"values":[-50,-40,-30,-20,-10,0,10,20,30,40,50,60,70,80,90,100,110,120,130,140,150,160,170,180,190,200,210,220,230,240,250],"tickSize":{"condition":{"test":"datum.value % 50 === 0","value":-16},"value":-7}}},
"color":{"field":"s","type":"nominal","scale":{"domain":["VA","VG","EA","EG","IA","IG"],"range":["#ff0000","#ff0000","#0000ff","#0000ff","#00ff00","#00ff00"]},"legend":{"title":null,"legendX":875,"legendY":15,"labelExpr":"{'VA':'Voltage at terminal 𝑎 (kV), SA','VG':'Voltage at terminal 𝑎 (kV), SA+SG','EA':'SA Energy (kJ), SA','EG':'SA Energy (kJ), SA+SG','IA':'SA Current (kA), SA','IG':'SA Current (kA), SA+SG'}[datum.value]"}},
"strokeDash":{"field":"s","type":"nominal","scale":{"domain":["VA","VG","EA","EG","IA","IG"],"range":[[1,0],[28,18],[1,0],[28,18],[1,0],[28,18]]},"legend":{"title":null,"legendX":875,"legendY":15,"labelExpr":"{'VA':'Voltage at terminal 𝑎 (kV), SA','VG':'Voltage at terminal 𝑎 (kV), SA+SG','EA':'SA Energy (kJ), SA','EG':'SA Energy (kJ), SA+SG','IA':'SA Current (kA), SA','IG':'SA Current (kA), SA+SG'}[datum.value]"}}
}}
]},
{"width":1629,"height":948,"data":{"name":"f"},
"title":{"text":"(f)","orient":"bottom","anchor":"middle","frame":"bounds","font":"Liberation Serif","fontSize":72,"fontWeight":"bold","color":"#000","offset":88,"baseline":"top"},
"layer":[
{"transform":[{"filter":{"field":"s","oneOf":["VG","EG","IG"]}}],"mark":{"type":"line","strokeWidth":5},
"encoding":{
"x":{"field":"t","type":"quantitative","scale":{"domain":[0,500],"nice":false,"zero":false},"axis":{"orient":"top","title":null,"labels":false,"grid":false,"values":[0,10,20,30,40,50,60,70,80,90,100,110,120,130,140,150,160,170,180,190,200,210,220,230,240,250,260,270,280,290,300,310,320,330,340,350,360,370,380,390,400,410,420,430,440,450,460,470,480,490,500],"tickSize":{"condition":{"test":"datum.value % 50 === 0","value":-16},"value":-7}}},
"y":{"field":"v","type":"quantitative","scale":{"domain":[-50,250],"nice":false,"zero":false},"axis":{"orient":"right","title":null,"labels":false,"grid":false,"values":[-50,-40,-30,-20,-10,0,10,20,30,40,50,60,70,80,90,100,110,120,130,140,150,160,170,180,190,200,210,220,230,240,250],"tickSize":{"condition":{"test":"datum.value % 50 === 0","value":-16},"value":-7}}},
"color":{"field":"s","type":"nominal","scale":{"domain":["VA","VG","EA","EG","IA","IG"],"range":["#ff0000","#ff0000","#0000ff","#0000ff","#00ff00","#00ff00"]},"legend":{"title":null,"legendX":878,"legendY":109,"labelExpr":"{'VA':'Voltage at terminal 𝑎 (kV), SA','VG':'Voltage at terminal 𝑎 (kV), SA+SG','EA':'SA Energy (kJ), SA','EG':'SA Energy (kJ), SA+SG','IA':'SA Current (kA), SA','IG':'SA Current (kA), SA+SG'}[datum.value]"}},
"strokeDash":{"field":"s","type":"nominal","scale":{"domain":["VA","VG","EA","EG","IA","IG"],"range":[[1,0],[28,18],[1,0],[28,18],[1,0],[28,18]]},"legend":{"title":null,"legendX":878,"legendY":109,"labelExpr":"{'VA':'Voltage at terminal 𝑎 (kV), SA','VG':'Voltage at terminal 𝑎 (kV), SA+SG','EA':'SA Energy (kJ), SA','EG':'SA Energy (kJ), SA+SG','IA':'SA Current (kA), SA','IG':'SA Current (kA), SA+SG'}[datum.value]"}}
}},
{"transform":[{"filter":{"field":"s","oneOf":["VA","EA","IA"]}}],"mark":{"type":"line","strokeWidth":5},
"encoding":{
"x":{"field":"t","type":"quantitative","scale":{"domain":[0,500],"nice":false,"zero":false},"axis":{"orient":"bottom","title":"t(μs)","titleFontSize":48,"titlePadding":8,"labelPadding":44,"labelExpr":"datum.value % 50 === 0 ? datum.label : ''","grid":true,"gridDash":{"condition":{"test":"datum.value % 50 === 0","value":[]},"value":[3,8]},"gridColor":{"condition":{"test":"datum.value % 50 === 0","value":"#d6d6d6"},"value":"#b4b4b4"},"gridOpacity":{"condition":{"test":"datum.value <= 0 || datum.value >= 500","value":0},"value":1},"values":[0,10,20,30,40,50,60,70,80,90,100,110,120,130,140,150,160,170,180,190,200,210,220,230,240,250,260,270,280,290,300,310,320,330,340,350,360,370,380,390,400,410,420,430,440,450,460,470,480,490,500],"tickSize":{"condition":{"test":"datum.value % 50 === 0","value":-16},"value":-7}}},
"y":{"field":"v","type":"quantitative","scale":{"domain":[-50,250],"nice":false,"zero":false},"axis":{"orient":"left","title":"Measurement","titlePadding":17,"labelPadding":34,"labelExpr":"datum.value % 50 === 0 ? datum.label : ''","grid":true,"gridDash":{"condition":{"test":"datum.value % 50 === 0","value":[]},"value":[3,8]},"gridColor":{"condition":{"test":"datum.value % 50 === 0","value":"#d6d6d6"},"value":"#b4b4b4"},"gridOpacity":{"condition":{"test":"datum.value <= -50 || datum.value >= 250","value":0},"value":1},"values":[-50,-40,-30,-20,-10,0,10,20,30,40,50,60,70,80,90,100,110,120,130,140,150,160,170,180,190,200,210,220,230,240,250],"tickSize":{"condition":{"test":"datum.value % 50 === 0","value":-16},"value":-7}}},
"color":{"field":"s","type":"nominal","scale":{"domain":["VA","VG","EA","EG","IA","IG"],"range":["#ff0000","#ff0000","#0000ff","#0000ff","#00ff00","#00ff00"]},"legend":{"title":null,"legendX":878,"legendY":109,"labelExpr":"{'VA':'Voltage at terminal 𝑎 (kV), SA','VG':'Voltage at terminal 𝑎 (kV), SA+SG','EA':'SA Energy (kJ), SA','EG':'SA Energy (kJ), SA+SG','IA':'SA Current (kA), SA','IG':'SA Current (kA), SA+SG'}[datum.value]"}},
"strokeDash":{"field":"s","type":"nominal","scale":{"domain":["VA","VG","EA","EG","IA","IG"],"range":[[1,0],[28,18],[1,0],[28,18],[1,0],[28,18]]},"legend":{"title":null,"legendX":878,"legendY":109,"labelExpr":"{'VA':'Voltage at terminal 𝑎 (kV), SA','VG':'Voltage at terminal 𝑎 (kV), SA+SG','EA':'SA Energy (kJ), SA','EG':'SA Energy (kJ), SA+SG','IA':'SA Current (kA), SA','IG':'SA Current (kA), SA+SG'}[datum.value]"}}
}}
]}
],
"config":{
"view":{"stroke":null},
"axis":{"labelFont":"Liberation Sans","labelFontSize":35,"labelColor":"#000","titleFont":"Liberation Serif","titleFontSize":46,"titleFontWeight":"normal","titleColor":"#000","domainColor":"#262626","domainWidth":2.5,"tickColor":"#262626","tickWidth":2,"labelOverlap":false,"labelFlush":false,"gridWidth":2},
"legend":{"orient":"none","padding":10,"strokeColor":"#000","fillColor":"#fff","labelFont":"Liberation Serif","labelFontSize":40,"labelColor":"#000","labelLimit":0,"symbolType":"M-3.1,0L3.1,0","symbolSize":1260,"symbolStrokeWidth":4.5,"symbolOffset":36,"labelOffset":47,"rowPadding":8}
}
}
